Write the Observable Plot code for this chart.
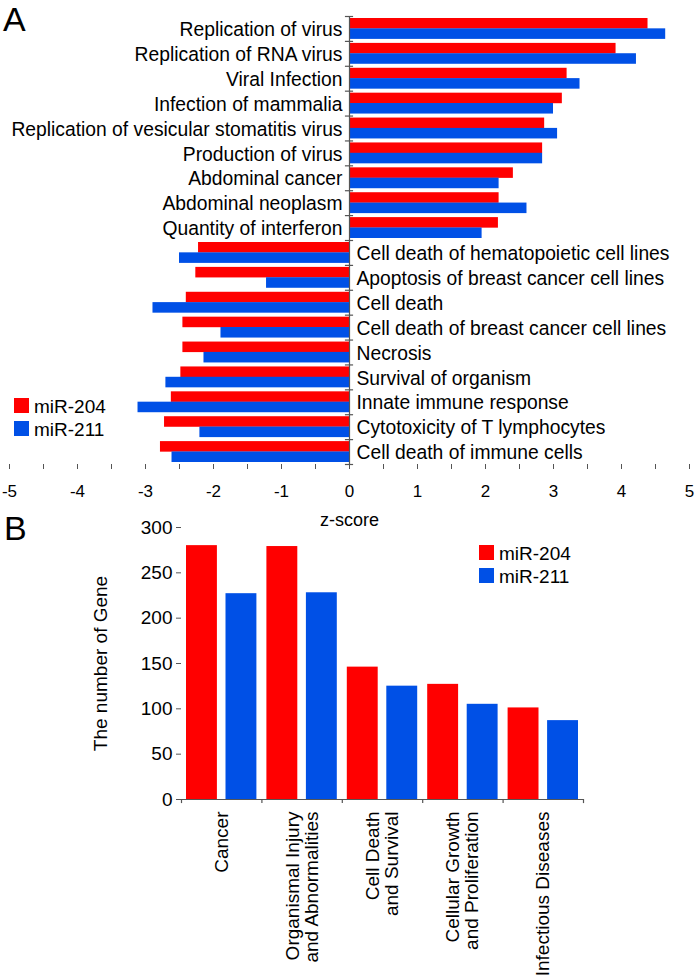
<!DOCTYPE html>
<html>
<head>
<meta charset="utf-8">
<script src="https://cdn.jsdelivr.net/npm/d3@7"></script>
<script src="https://cdn.jsdelivr.net/npm/@observablehq/plot@0.6"></script>
<style>
  html, body { margin: 0; padding: 0; background: #fff; }
  #page { position: relative; width: 697px; height: 976px; background: #fff; overflow: hidden;
          font-family: "Liberation Sans", Arial, sans-serif; color: #000; }
  .panel { position: absolute; left: 0; }
  .letter { position: absolute; font-size: 34px; line-height: 1; }
  .legend { position: absolute; font-size: 19px; line-height: 1; }
  .legend .row { position: absolute; left: 0; white-space: nowrap; }
  .legend .sw { position: absolute; left: 0; width: 15px; height: 15px; }
  .legend .lab { position: absolute; }
</style>
</head>
<body>
<div id="page">
  <div id="panelA" class="panel" style="top:0px;"></div>
  <div id="panelB" class="panel" style="top:500px;"></div>
  <div class="letter" style="left:3px; top:2px;">A</div>
  <div class="letter" style="left:4px; top:511px;">B</div>
  <div class="legend" id="legendA" style="left:14px; top:398px;"></div>
  <div class="legend" id="legendB" style="left:479px; top:545px;"></div>
</div>
<script>
// ---------- Data: panel A (z-score) ----------
const functionsA = [
  "Replication of virus",
  "Replication of RNA virus",
  "Viral Infection",
  "Infection of mammalia",
  "Replication of vesicular stomatitis virus",
  "Production of virus",
  "Abdominal cancer",
  "Abdominal neoplasm",
  "Quantity of interferon",
  "Cell death of hematopoietic cell lines",
  "Apoptosis of breast cancer cell lines",
  "Cell death",
  "Cell death of breast cancer cell lines",
  "Necrosis",
  "Survival of organism",
  "Innate immune response",
  "Cytotoxicity of T lymphocytes",
  "Cell death of immune cells"
];
const zMiR204 = [4.39, 3.92, 3.20, 3.13, 2.87, 2.84, 2.41, 2.20, 2.19,
                 -2.22, -2.26, -2.40, -2.45, -2.45, -2.48, -2.62, -2.72, -2.78];
const zMiR211 = [4.65, 4.22, 3.39, 3.00, 3.06, 2.84, 2.20, 2.61, 1.95,
                 -2.50, -1.22, -2.89, -1.89, -2.14, -2.70, -3.11, -2.20, -2.61];
const zTicks = [-5, -4.5, -4, -3.5, -3, -2.5, -2, -1.5, -1, -0.5, 0, 0.5, 1, 1.5, 2, 2.5, 3, 3.5, 4, 4.5, 5];

// ---------- Data: panel B (number of genes) ----------
const categoriesB = [
  "Cancer",
  "Organismal Injury\nand Abnormalities",
  "Cell Death\nand Survival",
  "Cellular Growth\nand Proliferation",
  "Infectious Diseases"
];
const genesMiR204 = [280, 279, 146, 127, 101];
const genesMiR211 = [227, 228, 125, 105, 87];
const geneTicks = [0, 50, 100, 150, 200, 250, 300];

const series = ["miR-204", "miR-211"];
const colors = ["#ff0000", "#0050e6"];

// ---------- Panel A ----------
const rowsA = functionsA.map((f, i) => ({f, a: zMiR204[i], b: zMiR211[i]}));
const WA = 697, HA = 530, mtA = 16, mbA = 66, mlA = 9, mrA = 8;
const bwA = (HA - mtA - mbA) / functionsA.length;
const half = bwA / 2;
const axisGray = "#555";
const narrow = "'Liberation Sans Narrow', 'Arial Narrow', 'Liberation Sans', Arial, sans-serif";

const plotA = Plot.plot({
  width: WA, height: HA,
  marginTop: mtA, marginBottom: mbA, marginLeft: mlA, marginRight: mrA,
  style: {background: "transparent", fontFamily: "'Liberation Sans', Arial, sans-serif", fontSize: "19px", color: "#000"},
  x: {domain: [-5, 5]},
  y: {type: "band", domain: functionsA, padding: 0, round: false, axis: null},
  marks: [
    Plot.barX(rowsA, {x: "a", y: "f", fill: colors[0], insetTop: 2, insetBottom: half - 0.1}),
    Plot.barX(rowsA, {x: "b", y: "f", fill: colors[1], insetTop: half - 0.1, insetBottom: 2}),
    Plot.ruleX([0], {stroke: axisGray, strokeWidth: 1.2}),
    Plot.ruleY(functionsA, {y: d => d, dy: -half, x1: -0.06, x2: 0.06, stroke: axisGray, strokeWidth: 1.2}),
    Plot.ruleY(functionsA.slice(-1), {y: d => d, dy: half, x1: -0.06, x2: 0.06, stroke: axisGray, strokeWidth: 1.2}),
    Plot.text(rowsA.filter(d => d.a > 0), {x: 0, y: "f", text: "f", textAnchor: "end", dx: -7, dy: 1, fontSize: 19.3, fill: "#000"}),
    Plot.text(rowsA.filter(d => d.a < 0), {x: 0, y: "f", text: "f", textAnchor: "start", dx: 7, dy: 1, fontSize: 19.3, fill: "#000"}),
    Plot.axisX({ticks: zTicks, tickFormat: d => Number.isInteger(d) ? String(d) : "",
                tickSize: 5, tickPadding: 15, line: true, label: null,
                stroke: axisGray, fill: "#000", fontSize: 17, fontFamily: narrow}),
    Plot.text(["z-score"], {frameAnchor: "bottom", dy: 56, lineAnchor: "middle", fontSize: 18, fontFamily: narrow, fill: "#000"})
  ]
});
document.getElementById("panelA").appendChild(plotA);

// ---------- Panel B ----------
const rowsB = categoriesB.map((c, i) => ({c, a: genesMiR204[i], b: genesMiR211[i]}));
const WB = 697, HB = 476, mtB = 27, mbB = 177, mlB = 181, mrB = 114;
const bwB = (WB - mlB - mrB) / categoriesB.length;

const plotB = Plot.plot({
  width: WB, height: HB,
  marginTop: mtB, marginBottom: mbB, marginLeft: mlB, marginRight: mrB,
  style: {background: "transparent", fontFamily: "'Liberation Sans', Arial, sans-serif", fontSize: "19px", color: "#000"},
  x: {type: "band", domain: categoriesB, padding: 0, round: false},
  y: {domain: [0, 300]},
  marks: [
    Plot.barY(rowsB, {x: "c", y: "a", fill: colors[0], insetLeft: 5, insetRight: 44.5}),
    Plot.barY(rowsB, {x: "c", y: "b", fill: colors[1], insetLeft: 44.5, insetRight: 5}),
    Plot.ruleY([0], {stroke: axisGray, strokeWidth: 1.2}),
    Plot.ruleX(categoriesB, {x: d => d, dx: -bwB / 2, y1: 0, y2: -4.5, stroke: axisGray, strokeWidth: 1.2}),
    Plot.ruleX(categoriesB.slice(-1), {x: d => d, dx: bwB / 2, y1: 0, y2: -4.5, stroke: axisGray, strokeWidth: 1.2}),
    Plot.axisY({ticks: geneTicks, tickSize: 5, tickPadding: 4, line: true, label: null,
                stroke: axisGray, fill: "#000", fontSize: 19}),
    Plot.axisX({tickSize: 0, tickRotate: -90, tickPadding: 12, label: null, fill: "#000", fontSize: 19}),
    Plot.text(["The number of Gene"], {frameAnchor: "left", textAnchor: "middle", rotate: -90, dx: -81, fontSize: 19, fill: "#000"})
  ]
});
document.getElementById("panelB").appendChild(plotB);

// ---------- Legends ----------
function legend(id, gap, textDy) {
  const el = document.getElementById(id);
  series.forEach((s, i) => {
    const row = document.createElement("div");
    row.className = "row";
    row.style.top = (i * gap) + "px";
    const sw = document.createElement("div");
    sw.className = "sw";
    sw.style.background = colors[i];
    const lab = document.createElement("div");
    lab.className = "lab";
    lab.style.left = "20px";
    lab.style.top = textDy + "px";
    lab.textContent = s;
    row.appendChild(sw);
    row.appendChild(lab);
    el.appendChild(row);
  });
}
legend("legendA", 22.5, -1);
legend("legendB", 23.3, -1);
</script>
</body>
</html>
